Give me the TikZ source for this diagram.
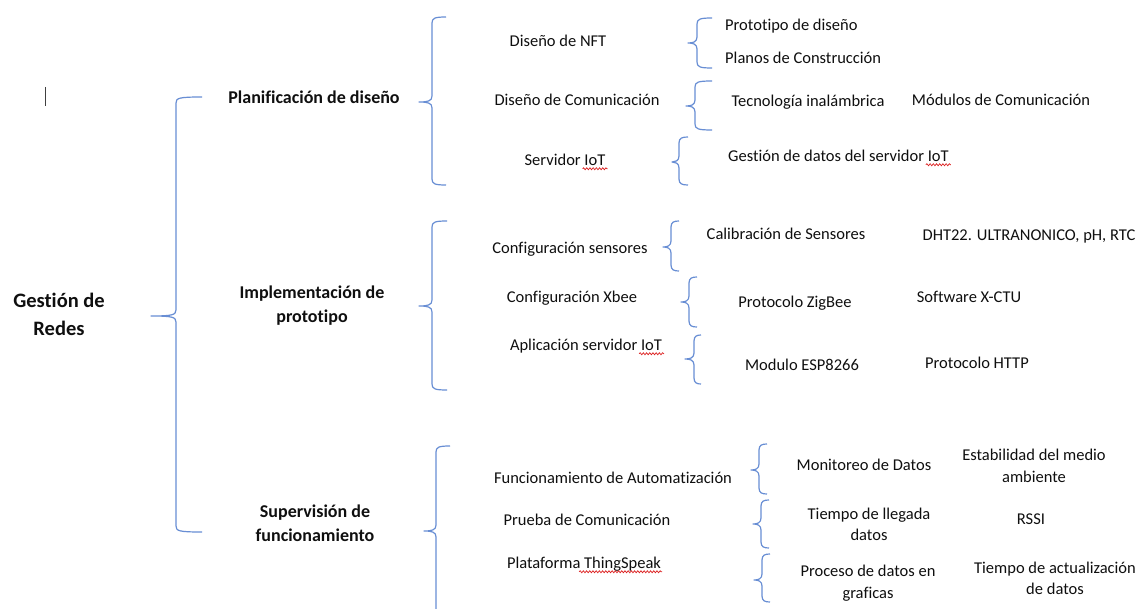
\documentclass[tikz,border=0pt]{standalone}
\usepackage{fontspec}
\setmainfont{Carlito}[Ligatures=NoCommon]
\usetikzlibrary{decorations.pathmorphing,calc}
\definecolor{brc}{RGB}{104,142,212}
\definecolor{txt}{RGB}{15,15,15}
\definecolor{sq}{RGB}{220,30,30}
\newcommand\wbrace[6]{% X T B M L E
 \draw[brace] ({#6},{#2}) .. controls ({#1+3},{#2}) and ({#1},{#2+1}) .. ({#1},{#2+6}) -- ({#1},{#4-6}) .. controls ({#1},{#4-1}) and ({#1-4},{#4}) .. ({#5},{#4}) .. controls ({#1-4},{#4}) and ({#1},{#4+1}) .. ({#1},{#4+6}) -- ({#1},{#3-6}) .. controls ({#1},{#3-1}) and ({#1+3},{#3}) .. ({#6},{#3});}
\tikzset{
  brace/.style={draw=brc, line width=1.2pt, line join=round},
  t/.style={font=\fontsize{16.5}{22}\selectfont, text=txt, inner sep=0pt, text height=12.5pt, text depth=2pt},
  tm/.style={font=\fontsize{16.5}{21.5}\selectfont, text=txt, inner sep=0pt, align=center},
  hb/.style={font=\bfseries\fontsize{18}{24}\selectfont, text=txt, inner sep=0pt, align=center},
  squig/.style={draw=sq, line width=0.7pt, decorate, decoration={snake, segment length=3.2pt, amplitude=1pt}}
}
\begin{document}
\begin{tikzpicture}[x=1pt,y=-1pt]
\clip (0,0) rectangle (1145,609);
\fill[white] (0,0) rectangle (1145,609);
% cursor
\draw[line width=1pt, black!75] (45,87) -- (45,106);
% level 0
\node[hb, font=\bfseries\fontsize{20.5}{28}\selectfont] (g) at (59,314) {Gestión de\\Redes};
% level 1
\node[hb] (p1) at (314,97) {Planificación de diseño};
\node[hb] (p2) at (312,306) {Implementación de\\prototipo};
\node[hb] (p3) at (315,523.5) {Supervisión de\\funcionamiento};
% level 2
\node[t] (a1) at (558,41) {Diseño de NFT};
\node[t] (a2) at (577,100) {Diseño de Comunicación};
\node[t] (a3) at (565,160) {Servidor IoT};
\node[t] (b1) at (570,248) {Configuración sensores};
\node[t] (b2) at (572,297) {Configuración Xbee};
\node[t] (b3) at (586,345) {Aplicación servidor IoT};
\node[t] (c1) at (613,478) {Funcionamiento de Automatización};
\node[t] (c2) at (587,520) {Prueba de Comunicación};
\node[t] (c3) at (584,563) {Plataforma ThingSpeak};
% level 3
\node[t, anchor=west] (a11) at (725,25) {Prototipo de diseño};
\node[t, anchor=west] (a12) at (725,58) {Planos de Construcción};
\node[t] (a21) at (808,101) {Tecnología inalámbrica};
\node[t] (a22) at (1001,100) {Módulos de Comunicación};
\node[t, anchor=west] (a31) at (728,156) {Gestión de datos del servidor IoT};
\node[t] (b11) at (786,234) {Calibración de Sensores};
\node[t] (b12) at (1029,235) {DHT22. ULTRANONICO, pH, RTC};
\node[t] (b21) at (795,302) {Protocolo ZigBee};
\node[t] (b22) at (969,297) {Software X-CTU};
\node[t] (b31) at (802,365) {Modulo ESP8266};
\node[t] (b32) at (977,363) {Protocolo HTTP};
\node[t] (c11) at (864,465) {Monitoreo de Datos};
\node[tm] (c12) at (1034,466) {Estabilidad del medio\\ambiente};
\node[tm] (c21) at (869,524.5) {Tiempo de llegada\\datos};
\node[t] (c22) at (1031,519) {RSSI};
\node[tm] (c31) at (868,583) {Proceso de datos en\\graficas};
\node[tm] (c32) at (1055,578.5) {Tiempo de actualización\\de datos};
% spelling squiggles
\draw[squig] ($(a3.base east)+(-23,3.5)$) -- ($(a3.base east)+(2,3.5)$);
\draw[squig] ($(a31.base east)+(-23,3.5)$) -- ($(a31.base east)+(2,3.5)$);
\draw[squig] ($(b3.base east)+(-23,3.5)$) -- ($(b3.base east)+(2,3.5)$);
\draw[squig] ($(c3.base east)+(-82,3.5)$) -- ($(c3.base east)+(1,3.5)$);
% braces
\wbrace{176}{97}{532}{316}{151}{202}
\wbrace{432}{17}{185}{102}{419}{446}
\wbrace{432}{221}{390}{306}{419}{447}
\wbrace{436}{446}{640}{531}{424}{450}
\wbrace{697}{18}{68}{43}{688}{712}
\wbrace{695}{81}{130}{106}{686}{712}
\wbrace{679}{137}{185}{162}{672}{688}
\wbrace{671}{221}{271}{247}{663}{679}
\wbrace{689}{277}{327}{302}{681}{697}
\wbrace{694}{335}{384}{359}{685}{701}
\wbrace{759}{444}{494}{470}{751}{767}
\wbrace{761}{500}{548}{524}{753}{769}
\wbrace{762}{554}{602}{580}{754}{770}
\end{tikzpicture}
\end{document}
